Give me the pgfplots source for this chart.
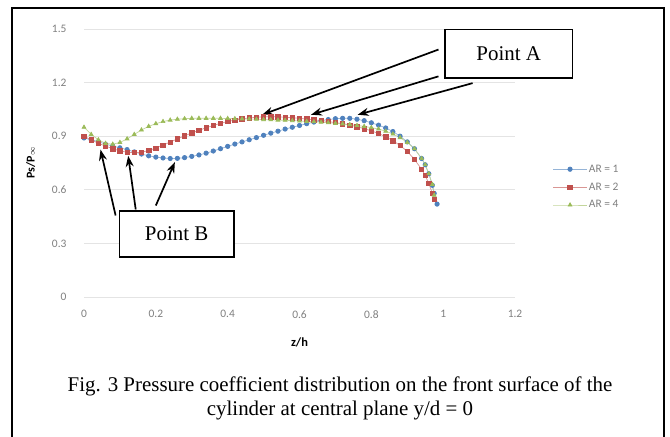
\documentclass[border=0pt]{standalone}
\usepackage{pgfplots}
\pgfplotsset{compat=1.18}
\usepackage{fontspec}
\setmainfont{Liberation Serif}
\newfontfamily\calib{Carlito}
\usetikzlibrary{arrows.meta}
\definecolor{arblue}{HTML}{4F81BD}
\definecolor{arred}{HTML}{C0504D}
\definecolor{argreen}{HTML}{9BBB59}
\definecolor{ticktxt}{HTML}{7F7F7F}
\definecolor{gridc}{HTML}{E4E4E4}
\tikzset{callout/.style={line width=1.7bp, -{Stealth[length=11bp,width=8bp]}}}

\begin{document}
\begin{tikzpicture}[x=1bp,y=1bp]
\useasboundingbox (0,0) rectangle (670,437);
\draw[line width=1.6bp] (12,0) -- (12,429) -- (664,429) -- (664,0);
\begin{axis}[at={(84bp,140bp)}, anchor=south west, scale only axis, width=431bp, height=268bp,
  xmin=0, xmax=1.2, ymin=0, ymax=1.5,
  xtick={0,0.2,...,1.2}, ytick={0,0.3,...,1.5},
  xticklabels={0,0.2,0.4,0.6,0.8,1,1.2},
  yticklabels={0,0.3,0.6,0.9,1.2,1.5},
  ymajorgrids, grid style={gridc, line width=0.8bp},
  axis line style={draw=none}, axis x line*=bottom, axis y line*=left,
  x axis line style={draw=gridc, line width=0.8bp},
  major tick length=0pt,
  tick label style={font=\calib\fontsize{11.5}{13}\selectfont, text=ticktxt},
  /pgf/number format/assume math mode=true,
  xticklabel style={yshift=-10bp}, yticklabel style={xshift=-14bp},
  xlabel={\calib\bfseries z/h}, xlabel style={font=\fontsize{12.5}{14}\selectfont, yshift=-12bp},
  ylabel={\calib\bfseries Ps/P{\fontsize{8}{9}\selectfont$\infty$}}, ylabel style={font=\fontsize{12}{14}\selectfont, yshift=10bp},
  clip=false,
  legend style={at={(1.08,0.41)}, anchor=west, draw=none, fill=none,
    font=\calib\fontsize{11.5}{14}\selectfont, text=ticktxt, row sep=6bp,
    nodes={inner sep=1.5bp}},
  legend cell align=left,
  legend image code/.code={\draw[#1, mark repeat=2, mark phase=2] plot coordinates {(0bp,0bp) (17bp,0bp) (34bp,0bp)};},
  every axis plot/.append style={line width=0.7bp, mark size=2.2bp},
]
\addplot[arblue!60, mark=*, mark options={fill=arblue, draw=arblue}] coordinates {
(0,0.89)(0.02,0.88)(0.04,0.87)(0.06,0.855)(0.08,0.845)(0.10,0.835)(0.12,0.825)(0.14,0.812)
(0.16,0.80)(0.18,0.79)(0.20,0.783)(0.22,0.778)(0.24,0.775)(0.26,0.776)(0.28,0.78)(0.30,0.787)
(0.32,0.795)(0.34,0.805)(0.36,0.817)(0.38,0.83)(0.40,0.843)(0.42,0.856)(0.44,0.868)(0.46,0.88)
(0.48,0.892)(0.50,0.905)(0.52,0.917)(0.54,0.928)(0.56,0.94)(0.58,0.95)(0.60,0.96)(0.62,0.97)
(0.64,0.979)(0.66,0.987)(0.68,0.993)(0.70,0.998)(0.72,1.0)(0.74,1.0)(0.76,0.995)(0.78,0.987)
(0.80,0.975)(0.82,0.962)(0.84,0.946)(0.86,0.926)(0.88,0.9)(0.90,0.868)(0.92,0.83)(0.94,0.775)
(0.95,0.74)(0.96,0.69)(0.97,0.625)(0.975,0.58)(0.983,0.52)};
\addlegendentry{AR = 1}
\addplot[arred!60, mark=square*, mark options={fill=arred, draw=arred}] coordinates {
(0,0.90)(0.02,0.88)(0.04,0.86)(0.06,0.845)(0.08,0.83)(0.10,0.818)(0.12,0.81)(0.14,0.808)
(0.16,0.81)(0.18,0.82)(0.20,0.833)(0.22,0.85)(0.24,0.867)(0.26,0.885)(0.28,0.902)(0.30,0.918)
(0.32,0.933)(0.34,0.947)(0.36,0.96)(0.38,0.972)(0.40,0.982)(0.42,0.99)(0.44,0.997)(0.46,1.002)
(0.48,1.006)(0.50,1.008)(0.52,1.009)(0.54,1.008)(0.56,1.006)(0.58,1.003)(0.60,1.0)(0.62,0.996)
(0.64,0.992)(0.66,0.987)(0.68,0.982)(0.70,0.976)(0.72,0.97)(0.74,0.962)(0.76,0.953)(0.78,0.942)
(0.80,0.93)(0.82,0.915)(0.84,0.897)(0.86,0.875)(0.88,0.848)(0.90,0.815)(0.92,0.77)(0.94,0.715)
(0.95,0.68)(0.96,0.635)(0.97,0.58)(0.975,0.545)};
\addlegendentry{AR = 2}
\addplot[argreen!60, mark=triangle*, mark options={fill=argreen, draw=argreen}] coordinates {
(0,0.95)(0.02,0.91)(0.04,0.88)(0.06,0.86)(0.08,0.855)(0.10,0.865)(0.12,0.885)(0.14,0.91)
(0.16,0.935)(0.18,0.955)(0.20,0.97)(0.22,0.982)(0.24,0.99)(0.26,0.995)(0.28,0.998)(0.30,1.0)
(0.32,1.0)(0.34,1.0)(0.36,1.0)(0.38,1.0)(0.40,0.999)(0.42,0.998)(0.44,0.997)(0.46,0.996)
(0.48,0.995)(0.50,0.993)(0.52,0.992)(0.54,0.99)(0.56,0.989)(0.58,0.987)(0.60,0.985)(0.62,0.983)
(0.64,0.981)(0.66,0.978)(0.68,0.975)(0.70,0.972)(0.72,0.969)(0.74,0.965)(0.76,0.96)(0.78,0.955)
(0.80,0.948)(0.82,0.94)(0.84,0.928)(0.86,0.912)(0.88,0.892)(0.90,0.865)(0.92,0.83)(0.94,0.775)
(0.95,0.74)(0.96,0.69)(0.97,0.63)(0.975,0.57)};
\addlegendentry{AR = 4}
% annotations
\draw[callout] (axis cs:0.987,1.385) -- (axis cs:0.496,1.02);
\draw[callout] (axis cs:0.987,1.235) -- (axis cs:0.632,1.02);
\draw[callout] (axis cs:1.082,1.197) -- (axis cs:0.762,1.02);
\draw[line width=1.6bp, fill=white] (axis cs:1.005,1.225) rectangle (axis cs:1.36,1.497);
\node[font=\fontsize{21}{22}\selectfont] at (axis cs:1.1825,1.361) {Point A};
\draw[callout] (axis cs:0.088,0.456) -- (axis cs:0.046,0.825);
\draw[callout] (axis cs:0.144,0.49) -- (axis cs:0.123,0.79);
\draw[callout] (axis cs:0.2,0.512) -- (axis cs:0.253,0.755);
\draw[line width=1.6bp, fill=white] (axis cs:0.099,0.225) rectangle (axis cs:0.417,0.48);
\node[font=\fontsize{21}{22}\selectfont] at (axis cs:0.258,0.352) {Point B};
\end{axis}
\node[anchor=base, font=\fontsize{21}{24}\selectfont, inner sep=0pt] at (340,45) {Fig. 3 Pressure coefficient distribution on the front surface of the};
\node[anchor=base, font=\fontsize{21}{24}\selectfont, inner sep=0pt] at (340,21) {cylinder at central plane y/d = 0};
\end{tikzpicture}
\end{document}
